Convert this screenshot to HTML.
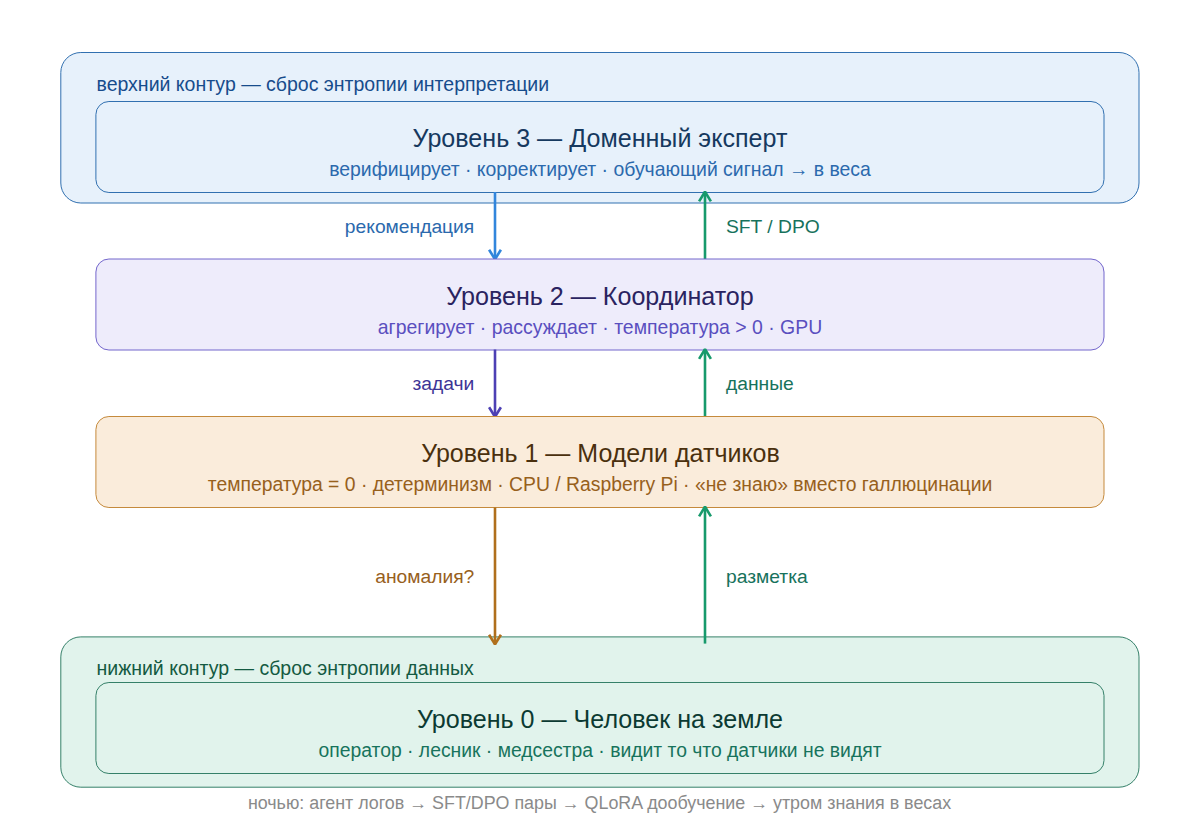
<!DOCTYPE html>
<html><head><meta charset="utf-8">
<style>
html,body{margin:0;padding:0;background:#ffffff;width:1200px;height:840px;overflow:hidden}
svg{display:block}
text{font-family:"Liberation Sans",sans-serif}
</style></head>
<body>
<svg width="1200" height="840" viewBox="0 0 1200 840">
<rect x="0" y="0" width="1200" height="840" fill="#ffffff"/>
<rect x="60.8" y="52.5" width="1078.2" height="150.5" rx="20" fill="#e7f1fb" stroke="#3170b0" stroke-width="1.0"/>
<text x="96.5" y="91.2" font-size="19.5" fill="#174c8c">верхний контур — сброс энтропии интерпретации</text>
<rect x="95.9" y="101.5" width="1008.1" height="91" rx="13" fill="#e7f1fb" stroke="#3170b0" stroke-width="1.0"/>
<text x="600" y="147.1" font-size="25.1" fill="#16395f" text-anchor="middle">Уровень 3 — Доменный эксперт</text>
<text x="600" y="176.3" font-size="19.42" fill="#2b69ad" text-anchor="middle">верифицирует · корректирует · обучающий сигнал → в веса</text>
<line x1="495" y1="192" x2="495" y2="259.3" stroke="#3286dc" stroke-width="2.6"/>
<polyline points="489.1,249.70000000000002 495,259.3 500.9,249.70000000000002" fill="none" stroke="#3286dc" stroke-width="2.6" stroke-linejoin="bevel"/>
<text x="474.3" y="233.3" font-size="19.25" fill="#2b69ad" text-anchor="end">рекомендация</text>
<line x1="705" y1="262" x2="705" y2="191.7" stroke="#179a6c" stroke-width="2.6"/>
<polyline points="699.1,201.39999999999998 705,191.7 710.9,201.39999999999998" fill="none" stroke="#179a6c" stroke-width="2.6" stroke-linejoin="bevel"/>
<text x="726" y="233.3" font-size="19.25" fill="#17725c">SFT / DPO</text>
<rect x="95.9" y="259" width="1008.1" height="91" rx="13" fill="#eeecfb" stroke="#7366cc" stroke-width="1.0"/>
<text x="600" y="304.5" font-size="25.1" fill="#2a2360" text-anchor="middle">Уровень 2 — Координатор</text>
<text x="600" y="334.3" font-size="19.44" fill="#5a4fbf" text-anchor="middle">агрегирует · рассуждает · температура &gt; 0 · GPU</text>
<line x1="495" y1="349.5" x2="495" y2="416.8" stroke="#4d40b4" stroke-width="2.6"/>
<polyline points="489.1,407.2 495,416.8 500.9,407.2" fill="none" stroke="#4d40b4" stroke-width="2.6" stroke-linejoin="bevel"/>
<text x="474.3" y="390.4" font-size="19.25" fill="#3d3496" text-anchor="end">задачи</text>
<line x1="705" y1="419" x2="705" y2="349.2" stroke="#179a6c" stroke-width="2.6"/>
<polyline points="699.1,358.9 705,349.2 710.9,358.9" fill="none" stroke="#179a6c" stroke-width="2.6" stroke-linejoin="bevel"/>
<text x="726" y="390.4" font-size="19.25" fill="#17725c">данные</text>
<rect x="95.9" y="416.5" width="1008.1" height="91" rx="13" fill="#faecdb" stroke="#c58a3c" stroke-width="1.0"/>
<text x="600.5" y="462.0" font-size="25.03" fill="#4a300e" text-anchor="middle">Уровень 1 — Модели датчиков</text>
<text x="600" y="491.1" font-size="19.34" fill="#97601c" text-anchor="middle">температура = 0 · детерминизм · CPU / Raspberry Pi · «не знаю» вместо галлюцинации</text>
<rect x="60.8" y="636.9" width="1078.2" height="150.3" rx="20" fill="#e1f3ec" stroke="#358069" stroke-width="1.0"/>
<text x="96.5" y="675.3" font-size="19.5" fill="#145a42">нижний контур — сброс энтропии данных</text>
<rect x="95.9" y="682.5" width="1008.1" height="91" rx="13" fill="#e1f3ec" stroke="#358069" stroke-width="1.0"/>
<text x="600" y="728.0" font-size="25.1" fill="#0c3a32" text-anchor="middle">Уровень 0 — Человек на земле</text>
<text x="600" y="757.0" font-size="19.33" fill="#17735c" text-anchor="middle">оператор · лесник · медсестра · видит то что датчики не видят</text>
<text x="599.5" y="808.6" font-size="17.86" fill="#8a8a8a" text-anchor="middle">ночью: агент логов → SFT/DPO пары → QLoRA дообучение → утром знания в весах</text>
<line x1="495" y1="507.5" x2="495" y2="644.4" stroke="#b06f1c" stroke-width="2.6"/>
<polyline points="489.1,634.6999999999999 495,644.4 500.9,634.6999999999999" fill="none" stroke="#b06f1c" stroke-width="2.6" stroke-linejoin="bevel"/>
<text x="474.3" y="582.8" font-size="19.25" fill="#97601c" text-anchor="end">аномалия?</text>
<line x1="705" y1="643.6" x2="705" y2="506.7" stroke="#179a6c" stroke-width="2.6"/>
<polyline points="699.1,516.4 705,506.7 710.9,516.4" fill="none" stroke="#179a6c" stroke-width="2.6" stroke-linejoin="bevel"/>
<text x="726" y="582.8" font-size="19.25" fill="#17725c">разметка</text>
</svg>
</body></html>
